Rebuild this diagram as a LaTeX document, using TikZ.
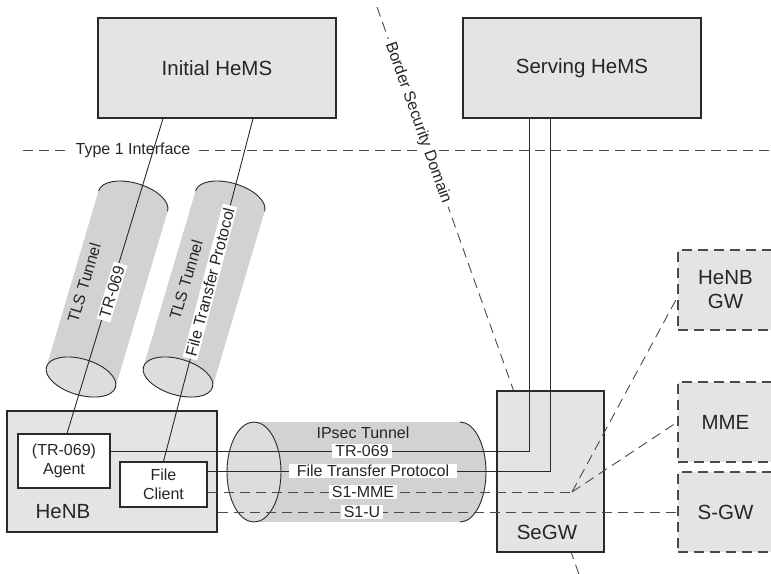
\documentclass[tikz,border=0pt]{standalone}
\usepackage{fontspec}
\setmainfont{Liberation Sans}
\definecolor{boxgray}{HTML}{E3E4E5}
\definecolor{tubegray}{HTML}{D2D2D2}
\definecolor{tubefront}{HTML}{DDDDDD}
\definecolor{ink}{HTML}{2A2A2A}
\definecolor{dashink}{HTML}{4A4A4A}
\newcommand{\mytlstube}[3]{%
  \begin{scope}[shift={#1},rotate=#2]
    \fill[tubegray] (-36,0) rectangle (36,-#3);
    \fill[tubegray] (0,-#3) ellipse (36 and 18);
    \begin{scope}
      \clip (-40,-#3) rectangle (40,-#3-25);
      \draw[ink, line width=0.9pt] (0,-#3) ellipse (36 and 18);
    \end{scope}
    \filldraw[fill=tubefront, draw=ink, line width=0.9pt] (0,0) ellipse (36 and 18);
  \end{scope}}
\begin{document}
\begin{tikzpicture}[x=1pt,y=-1pt,
  box/.style={draw=ink, fill=boxgray, line width=1.1pt, inner sep=0pt, text=black!85},
  dbox/.style={box, draw=dashink, dash pattern=on 10pt off 6pt},
  conn/.style={draw=ink, line width=0.9pt},
  dline/.style={draw=dashink, line width=0.9pt, dash pattern=on 10pt off 6pt},
  big/.style={font=\fontsize{20.5}{24}\selectfont, text=black!85},
  mid/.style={font=\fontsize{16}{18.5}\selectfont, text=black!85},
  wl/.style={mid, fill=white, inner xsep=3pt, inner ysep=1.5pt}]
\useasboundingbox (0,0) rectangle (771,573);
\clip (0,0) rectangle (771,573);

% interfaces / domains
\coordinate (t1a) at (23,150);
\coordinate (t1b) at (775,150);
\draw[dline] (t1a) -- (t1b);
\coordinate (bda) at (377,7);
\coordinate (bdb) at (581,580);
\draw[dline] (bda) -- (bdb);
\node[mid, fill=white, inner xsep=8pt, inner ysep=2pt] (t1lbl) at (133,150) {Type 1 Interface};
\node[mid, fill=white, inner xsep=4pt, inner ysep=1pt, rotate=-70.4] (bdlbl) at (418,123) {Border Security Domain};

% TLS tunnels
\mytlstube{(81,377)}{-16.5}{183.5}
\mytlstube{(178,377)}{-16.5}{183.5}

% IPsec tunnel
\fill[tubegray] (254,422) rectangle (460,522);
\begin{scope}
  \clip (460,400) rectangle (500,545);
  \filldraw[fill=tubegray, draw=ink, line width=0.9pt] (460,472) ellipse (26 and 50);
\end{scope}
\filldraw[fill=tubefront, draw=ink, line width=0.9pt] (254,472) ellipse (27 and 50);

% boxes
\node[box, big, minimum width=238pt, minimum height=100pt] (ihems) at (217,68) {Initial HeMS};
\node[box, big, minimum width=238pt, minimum height=100pt] (shems) at (582,68) {Serving HeMS};
\node[box, minimum width=210pt, minimum height=121pt] (henb) at (112,471.5) {};
\node[big] (henblbl) at (63,512) {HeNB};
\node[box, mid, fill=white, align=center, minimum width=92pt, minimum height=54pt] (agent) at (64,461) {(TR-069)\\Agent};
\node[box, mid, fill=white, align=center, minimum width=87pt, minimum height=45pt] (client) at (163.5,484.5) {File\\Client};
\node[box, minimum width=107pt, minimum height=161pt] (segw) at (550.5,471.5) {};
\node[big] (segwlbl) at (547,532) {SeGW};
\node[dbox, big, align=center, minimum width=95pt, minimum height=80pt] (henbgw) at (725.5,290) {HeNB\\GW};
\node[dbox, big, minimum width=95pt, minimum height=80pt] (mme) at (725.5,422) {MME};
\node[dbox, big, minimum width=95pt, minimum height=80pt] (sgw) at (725.5,512) {S-GW};

% connectors
\draw[conn] ([xshift=3pt]agent.north) -- ([xshift=-54pt]ihems.south);
\draw[conn] (client.north) -- ([xshift=36pt]ihems.south);
\draw[conn] ([yshift=10pt]agent.east) -| ([xshift=-53pt]shems.south);
\draw[conn] ([yshift=13.5pt]client.east) -| ([xshift=-32pt]shems.south);
\coordinate (mmejoin) at (572,492);
\draw[dline] ([yshift=-7.5pt]client.east) -- (mmejoin);
\draw[dline] (mmejoin) -- ([yshift=-7pt]henbgw.west);
\draw[dline] (mmejoin) -- (mme.west);
\draw[dline] ([yshift=-40.5pt]henb.east) -- (sgw.west);

% labels
\node[mid, rotate=73.5] (tls1) at (84,283) {TLS Tunnel};
\node[mid, rotate=73.5] (tls2) at (186,280) {TLS Tunnel};
\node[wl, rotate=73.1] (trl) at (112,292) {TR-069};
\node[wl, rotate=75.3] (ftl) at (210,282) {File Transfer Protocol};
\node[mid] (ipsec) at (363,433) {IPsec Tunnel};
\node[wl] (trh) at (362,451) {TR-069};
\node[wl, inner xsep=8pt] (fth) at (373,471) {File Transfer Protocol};
\node[wl] (s1m) at (363,492) {S1-MME};
\node[wl] (s1u) at (362,512) {S1-U};
\end{tikzpicture}
\end{document}
